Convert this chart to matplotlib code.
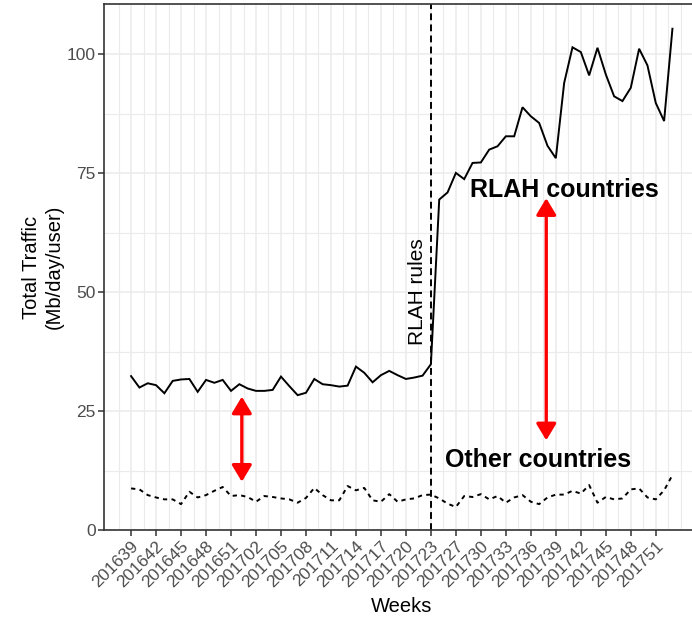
import numpy as np
import matplotlib
matplotlib.use("Agg")
import matplotlib.pyplot as plt

plt.rcParams["font.family"] = ["Liberation Sans", "DejaVu Sans"]

# weekly traffic per user (Mb/day/user), one value per week starting 201639
rlah_traffic = [
    32.4, 30.0, 30.9, 30.5, 28.8, 31.4, 31.7, 31.8, 29.1, 31.6,
    31.0, 31.6, 29.3, 30.7, 29.8, 29.3, 29.3, 29.5, 32.3, 30.3,
    28.4, 28.9, 31.8, 30.7, 30.5, 30.2, 30.4, 34.4, 33.1, 31.1,
    32.6, 33.5, 32.6, 31.8, 32.1, 32.5, 34.9, 69.5, 71.0, 75.1,
    73.8, 77.2, 77.3, 80.0, 80.7, 82.8, 82.8, 88.9, 87.0, 85.6,
    80.8, 78.2, 94.0, 101.5, 100.5, 95.6, 101.4, 95.8, 91.2, 90.2,
    93.0, 101.2, 97.7, 89.8, 86.0, 105.4,
]
other_traffic = [
    8.8, 8.6, 7.4, 6.9, 6.5, 6.5, 5.5, 8.1, 6.9, 7.4,
    8.3, 9.1, 7.2, 7.4, 7.0, 6.0, 7.2, 7.0, 6.7, 6.5,
    5.8, 6.8, 8.9, 7.4, 6.3, 6.3, 9.3, 8.4, 8.9, 6.3,
    6.0, 7.6, 6.0, 6.5, 6.7, 7.4, 7.5, 6.7, 5.6, 4.9,
    7.2, 7.0, 7.6, 6.5, 7.2, 5.8, 6.9, 7.4, 6.0, 5.5,
    6.9, 7.5, 7.5, 8.3, 7.7, 9.5, 5.8, 7.0, 6.5, 6.7,
    8.6, 8.8, 6.9, 6.5, 8.4, 11.6,
]
week_labels = [
    "201639", "201642", "201645", "201648", "201651", "201702", "201705",
    "201708", "201711", "201714", "201717", "201720", "201723", "201727",
    "201730", "201733", "201736", "201739", "201742", "201745", "201748",
    "201751",
]
rlah_week = 36  # index of week 201723
gap_left = (13.3, 10.2, 28.1)
gap_right = (49.85, 18.9, 69.8)


def main() -> None:
    W, H = 692, 619
    fig = plt.figure(figsize=(W / 100, H / 100), dpi=100)
    left, right, top, bottom = 104, 699.5, 4, 530.3
    ax = fig.add_axes([left / W, 1 - bottom / H, (right - left) / W, (bottom - top) / H])

    x = np.arange(len(rlah_traffic))
    ax.set_xlim(-3.25, 68.25)
    ax.set_ylim(0, 110.6)

    major_x = np.arange(0, 3 * len(week_labels), 3)
    minor_x = np.concatenate([np.arange(-1.5, 68, 3), [66]])
    ax.set_xticks(major_x)
    ax.set_xticklabels(week_labels, rotation=45, ha="right", va="top",
                       rotation_mode="anchor")
    ax.set_xticks(minor_x, minor=True)
    ax.set_yticks([0, 25, 50, 75, 100])
    ax.set_yticks([12.5, 37.5, 62.5, 87.5], minor=True)

    ax.grid(which="major", color="#EBEBEB", lw=1.1)
    ax.grid(which="minor", color="#EBEBEB", lw=0.8)
    ax.set_axisbelow(True)

    ax.tick_params(which="major", length=4, width=1.1, color="#333333",
                   labelcolor="#4D4D4D", labelsize=12.5, pad=2)
    ax.tick_params(which="minor", length=0)
    for side in ["left", "bottom", "top", "right"]:
        ax.spines[side].set_color("#333333")
        ax.spines[side].set_linewidth(1.2)

    ax.plot(x, rlah_traffic, color="black", lw=1.4, solid_joinstyle="miter")
    ax.plot(x, other_traffic, color="black", lw=1.4, linestyle=(0, (2.2, 2.2)))
    ax.axvline(rlah_week, color="black", lw=1.4, linestyle=(0, (3.5, 2.2)))

    for xa, y0, y1 in [gap_left, gap_right]:
        ax.annotate("", xy=(xa, y1), xytext=(xa, y0),
                    arrowprops=dict(arrowstyle="<|-|>,head_length=0.5,head_width=0.3",
                                    mutation_scale=20, color="red", lw=2.4,
                                    shrinkA=0, shrinkB=0))

    ax.text(52.0, 70.1, "RLAH countries", ha="center", va="baseline",
            fontsize=18, fontweight="bold")
    ax.text(48.9, 13.2, "Other countries", ha="center", va="baseline",
            fontsize=18, fontweight="bold")
    ax.text(34.4, 50.1, "RLAH rules", ha="center", va="center", rotation=90,
            fontsize=15)

    fig.text(401.7 / W, 1 - 607 / H, "Weeks", ha="center", va="center", fontsize=14.5)
    fig.text(42.5 / W, 1 - 267 / H, "Total Traffic\n(Mb/day/user)", ha="center",
             va="center", rotation=90, fontsize=14.5, multialignment="center",
             linespacing=1.25)

    fig.savefig("out.png", dpi=100)
    plt.close(fig)


if __name__ == "__main__":
    main()
